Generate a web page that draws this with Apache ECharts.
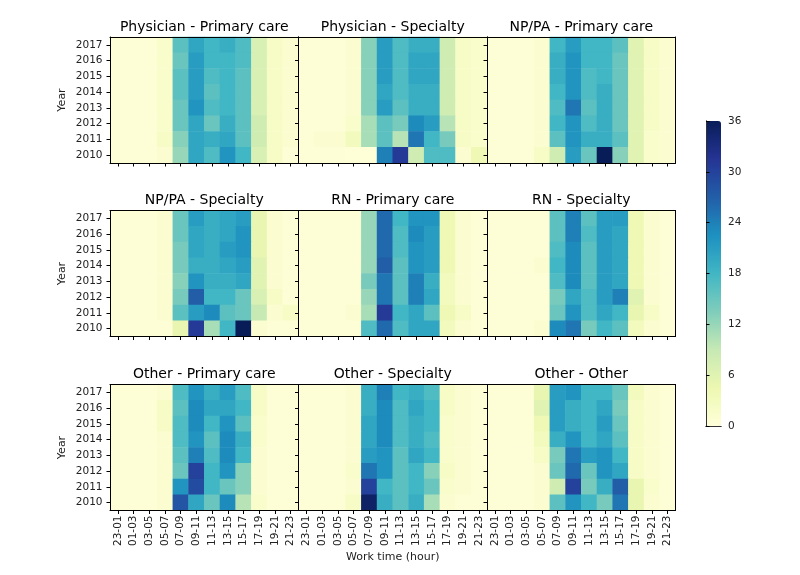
<!DOCTYPE html>
<html><head><meta charset="utf-8">
<script src="https://cdn.jsdelivr.net/npm/echarts@6/dist/echarts.min.js"></script>
<style>html,body{margin:0;padding:0;background:#fff}#c{width:800px;height:575px}</style>
</head><body><div id="c"></div>
<script>
const hours = ['23-01','01-03','03-05','05-07','07-09','09-11','11-13','13-15','15-17','17-19','19-21','21-23'];
const years = ['2010','2011','2012','2013','2014','2015','2016','2017'];
const titles = ['Physician - Primary care','Physician - Specialty','NP/PA - Primary care',
  'NP/PA - Specialty','RN - Primary care','RN - Specialty',
  'Other - Primary care','Other - Specialty','Other - Other'];
const colorTicks = [0, 6, 12, 18, 24, 30, 36];
// each panel: rows from 2017 (top) down to 2010 (bottom), 12 columns of work time
const physicianPrimary = [
  [0.5,0.5,0.5,1.5,16,20,18,19,17,7,2,1],
  [0.5,0.5,0.5,1.5,15,21,18,18,17,7,2,1],
  [0.5,0.5,0.5,1.5,16,21,17,18,16,7,2,1],
  [0.5,0.5,0.5,1.5,16,21,16,18,16,7,2,1],
  [0.5,0.5,0.5,1.5,15,22,17,18,16,7,2,1],
  [0.5,0.5,0.5,1.5,15,20,15,19,16,8,2,1],
  [0.5,0.5,0.5,2,13,20,19,20,16,8,2,1],
  [0.5,0.5,0.5,1,12,20,17,22,18,7,2,0.5]];
const physicianSpecialty = [
  [0.5,0.5,0.5,1,13,21,17,19,19,8,2,1.5],
  [0.5,0.5,0.5,1,13,21,17,20,20,8,2,1.5],
  [0.5,0.5,0.5,1,13,21,17,20,20,8,2,1.5],
  [0.5,0.5,0.5,1,13,20,17,19,19,8,2,1.5],
  [0.5,0.5,0.5,1,13,21,16,19,19,8,2,1.5],
  [0.5,0.5,0.5,1.5,11,16,14,23,21,10,2,1.5],
  [0.5,1,1,3,11,16,10,25,18,14,2,1.5],
  [0.5,0.5,0.5,0.3,0.3,24,31,8,17,17,1,4]];
const npPrimary = [
  [0.5,0.5,0.5,1,18,21,18,18,16,6,2,1],
  [0.5,0.5,0.5,1,19,22,18,18,15,6,2,1],
  [0.5,0.5,0.5,1,19,22,17,18,15,6,2,1],
  [0.5,0.5,0.5,1,18,22,17,19,15,6,2,1],
  [0.5,0.5,0.5,1,17,25,16,19,15,6,2,1],
  [0.5,0.5,0.5,1,18,22,17,19,15,6,2,1],
  [0.5,0.5,0.5,1,16,22,19,19,16,6,1.5,1],
  [0.5,0.5,0.5,2,8,21,15,36,13,6,1.5,1]];
const npSpecialty = [
  [0.5,0.5,0.5,1,15,21,19,20,21,5,1,0.5],
  [0.5,0.5,0.5,1,15,20,19,20,22,5,1,0.5],
  [0.5,0.5,0.5,1,14,20,19,21,22,5,1,0.5],
  [0.5,0.5,0.5,1,14,19,19,20,21,6,1,0.5],
  [0.5,0.5,0.5,1,13,22,19,19,20,6,1,0.5],
  [0.5,0.5,0.5,1,14,27,18,18,15,7,2,0.5],
  [0.5,0.5,0.5,1,16,21,23,16,15,9,1,2],
  [0.5,0.5,0.5,0.5,5,31,11,18,36,1,0.5,0.5]];
const rnPrimary = [
  [0.5,0.5,0.5,0.5,12,26,18,22,22,4,1,0.5],
  [0.5,0.5,0.5,0.5,12,26,17,23,21,4,1,0.5],
  [0.5,0.5,0.5,0.5,12,26,17,22,21,4,1,0.5],
  [0.5,0.5,0.5,0.5,12,27,16,22,21,4,1,0.5],
  [0.5,0.5,0.5,0.5,14,25,16,24,19,3,1,0.5],
  [0.5,0.5,0.5,0.5,12,25,16,24,20,3,1,0.5],
  [0.5,0.5,0.5,1,11,31,18,20,16,4,2,0.5],
  [0.5,0.5,0.5,0.5,17,26,17,20,20,3,1,0.5]];
const rnSpecialty = [
  [0.5,0.5,0.5,0.5,16,24,16,21,21,4,1,0.5],
  [0.5,0.5,0.5,0.5,16,24,17,21,20,4,1,0.5],
  [0.5,0.5,0.5,0.5,17,23,16,21,20,4,1,0.5],
  [0.5,0.5,0.5,1,18,23,16,21,20,4,1,0.5],
  [0.5,0.5,0.5,0.5,17,23,16,21,20,4,1,0.5],
  [0.5,0.5,0.5,0.5,14,20,17,21,24,6,1,0.5],
  [0.5,0.5,0.5,0.5,15,22,17,20,18,5,2,0.5],
  [0.5,0.5,0.5,1,23,25,14,18,16,3,1,0.5]];
const otherPrimary = [
  [0.5,0.5,0.5,1,17,22,19,21,17,2,0.5,0.5],
  [0.5,0.5,0.5,2,16,23,20,20,18,2,0.5,0.5],
  [0.5,0.5,0.5,2,17,23,18,22,16,1.5,0.5,0.5],
  [0.5,0.5,0.5,1,17,22,16,23,19,1.5,0.5,0.5],
  [0.5,0.5,0.5,1,16,24,17,23,18,1,0.5,0.5],
  [0.5,0.5,0.5,1,15,30,18,22,13,1,0.5,0.5],
  [0.5,0.5,0.5,1,22,29,18,15,13,1,0.5,0.5],
  [0.5,0.5,0.5,1,28,20,15,23,10,1.5,0.5,0.5]];
const otherSpecialty = [
  [0.5,0.5,0.5,1,19,24,18,19,17,2,1,0.5],
  [0.5,0.5,0.5,1,19,23,17,20,18,2,1,0.5],
  [0.5,0.5,0.5,1,20,23,17,19,18,1.5,1,0.5],
  [0.5,0.5,0.5,1,20,23,17,19,17,1.5,1,0.5],
  [0.5,0.5,0.5,1,21,22,16,20,18,1.5,1,0.5],
  [0.5,0.5,0.5,1.5,25,22,16,18,13,2,1,0.5],
  [0.5,0.5,0.5,1,30,18,16,18,15,1.5,1,0.5],
  [0.5,0.5,0.5,2,35,19,16,19,11,1,0.5,0.5]];
const otherOther = [
  [0.5,0.5,0.5,5,21,22,18,18,15,3,1,0.5],
  [0.5,0.5,0.5,6,21,19,18,20,14,2,1,0.5],
  [0.5,0.5,0.5,4,21,19,18,21,15,2,1,0.5],
  [0.5,0.5,0.5,3,19,22,18,20,16,2,1,0.5],
  [0.5,0.5,0.5,2,14,25,21,22,18,2,1,0.5],
  [0.5,0.5,0.5,1,15,26,15,22,20,2,1,0.5],
  [0.5,0.5,0.5,1,8,30,14,19,27,5,1.5,0.5],
  [0.5,0.5,0.5,1,16,22,18,14,25,5,1,0.5]];
const panels = [physicianPrimary, physicianSpecialty, npPrimary, npSpecialty,
  rnPrimary, rnSpecialty, otherPrimary, otherSpecialty, otherOther];
const ylgnbu = ['#ffffd9','#edf8b1','#c7e9b4','#7fcdbb','#41b6c4','#1d91c0','#225ea8','#253494','#081d58'];

const FONT = 'DejaVu Sans';
const lefts = [110, 298.5, 487], tops = [37, 210.5, 384.5], GW = 188.5, GH = 126;
const grid = [], xAxis = [], yAxis = [], series = [], title = [];
panels.forEach((rows, i) => {
  const r = Math.floor(i / 3), c = i % 3;
  grid.push({left: lefts[c], top: tops[r], width: GW, height: GH, containLabel: false});
  const line = {show: true, lineStyle: {color: '#000', width: 1}};
  xAxis.push({
    gridIndex: i, type: 'category', data: hours, position: 'bottom', z: 10,
    axisLine: line,
    axisTick: {show: true, alignWithLabel: true, length: 3.5, lineStyle: {color: '#000'}},
    axisLabel: {show: r === 2, rotate: 90, interval: 0, fontSize: 10.5, color: '#222', fontFamily: FONT, margin: 5},
    splitLine: {show: false},
    name: i === 7 ? 'Work time (hour)' : '', nameLocation: 'middle', nameGap: 41,
    nameTextStyle: {fontSize: 11, color: '#222', fontFamily: FONT}
  });
  xAxis.push({gridIndex: i, type: 'category', data: hours, position: 'top', z: 10,
    axisLine: line, axisTick: {show: false}, axisLabel: {show: false}, splitLine: {show: false}});
  yAxis.push({
    gridIndex: i, type: 'category', data: years, position: 'left', z: 10,
    axisLine: line,
    axisTick: {show: true, alignWithLabel: true, length: 3.5, lineStyle: {color: '#000'}},
    axisLabel: {show: c === 0, interval: 0, fontSize: 10.5, color: '#222', fontFamily: FONT, margin: 7.5},
    splitLine: {show: false},
    name: c === 0 ? 'Year' : '', nameLocation: 'middle', nameGap: 42,
    nameTextStyle: {fontSize: 11, color: '#222', fontFamily: FONT}
  });
  yAxis.push({gridIndex: i, type: 'category', data: years, position: 'right', z: 10,
    axisLine: line, axisTick: {show: false}, axisLabel: {show: false}, splitLine: {show: false}});
  const data = [];
  rows.forEach((row, k) => {
    const yi = years.length - 1 - k;
    row.forEach((v, xi) => data.push([xi, yi, v]));
  });
  series.push({type: 'heatmap', xAxisIndex: 2 * i, yAxisIndex: 2 * i, data: data,
    itemStyle: {borderWidth: 0}, emphasis: {disabled: true}, progressive: 0});
  title.push({text: titles[i], left: lefts[c] + GW / 2, top: tops[r] - 17, textAlign: 'center', padding: 0,
    textStyle: {fontSize: 14, fontWeight: 'normal', color: '#000', fontFamily: FONT}});
});
// colorbar frame and ticks
const CB = {left: 706, top: 121, width: 15, height: 305};
grid.push({left: CB.left, top: CB.top, width: CB.width, height: CB.height});
const cbLine = {show: true, lineStyle: {color: '#333', width: 1}};
xAxis.push({gridIndex: 9, type: 'value', min: 0, max: 1, position: 'bottom', z: 10, axisLine: cbLine,
  axisTick: {show: false}, axisLabel: {show: false}, splitLine: {show: false}});
xAxis.push({gridIndex: 9, type: 'value', min: 0, max: 1, position: 'top', z: 10, axisLine: cbLine,
  axisTick: {show: false}, axisLabel: {show: false}, splitLine: {show: false}});
yAxis.push({gridIndex: 9, type: 'value', min: colorTicks[0], max: colorTicks[colorTicks.length - 1], interval: 6,
  position: 'right', z: 10, axisLine: cbLine,
  axisTick: {show: true, length: 3.5, lineStyle: {color: '#000'}},
  axisLabel: {fontSize: 10.5, color: '#222', fontFamily: FONT, margin: 7}, splitLine: {show: false}});
yAxis.push({gridIndex: 9, type: 'value', min: 0, max: 36, position: 'left', z: 10, axisLine: cbLine,
  axisTick: {show: false}, axisLabel: {show: false}, splitLine: {show: false}});

const chart = echarts.init(document.getElementById('c'), null, {renderer: 'canvas'});
chart.setOption({
  animation: false,
  backgroundColor: '#fff',
  title: title,
  grid: grid, xAxis: xAxis, yAxis: yAxis,
  visualMap: {type: 'continuous', min: 0, max: 36, calculable: false, show: true,
    left: CB.left, top: CB.top, itemWidth: CB.width, itemHeight: CB.height, padding: 0,
    text: null, seriesIndex: [0,1,2,3,4,5,6,7,8], inRange: {color: ylgnbu}, hoverLink: false},
  series: series
});
</script></body></html>
